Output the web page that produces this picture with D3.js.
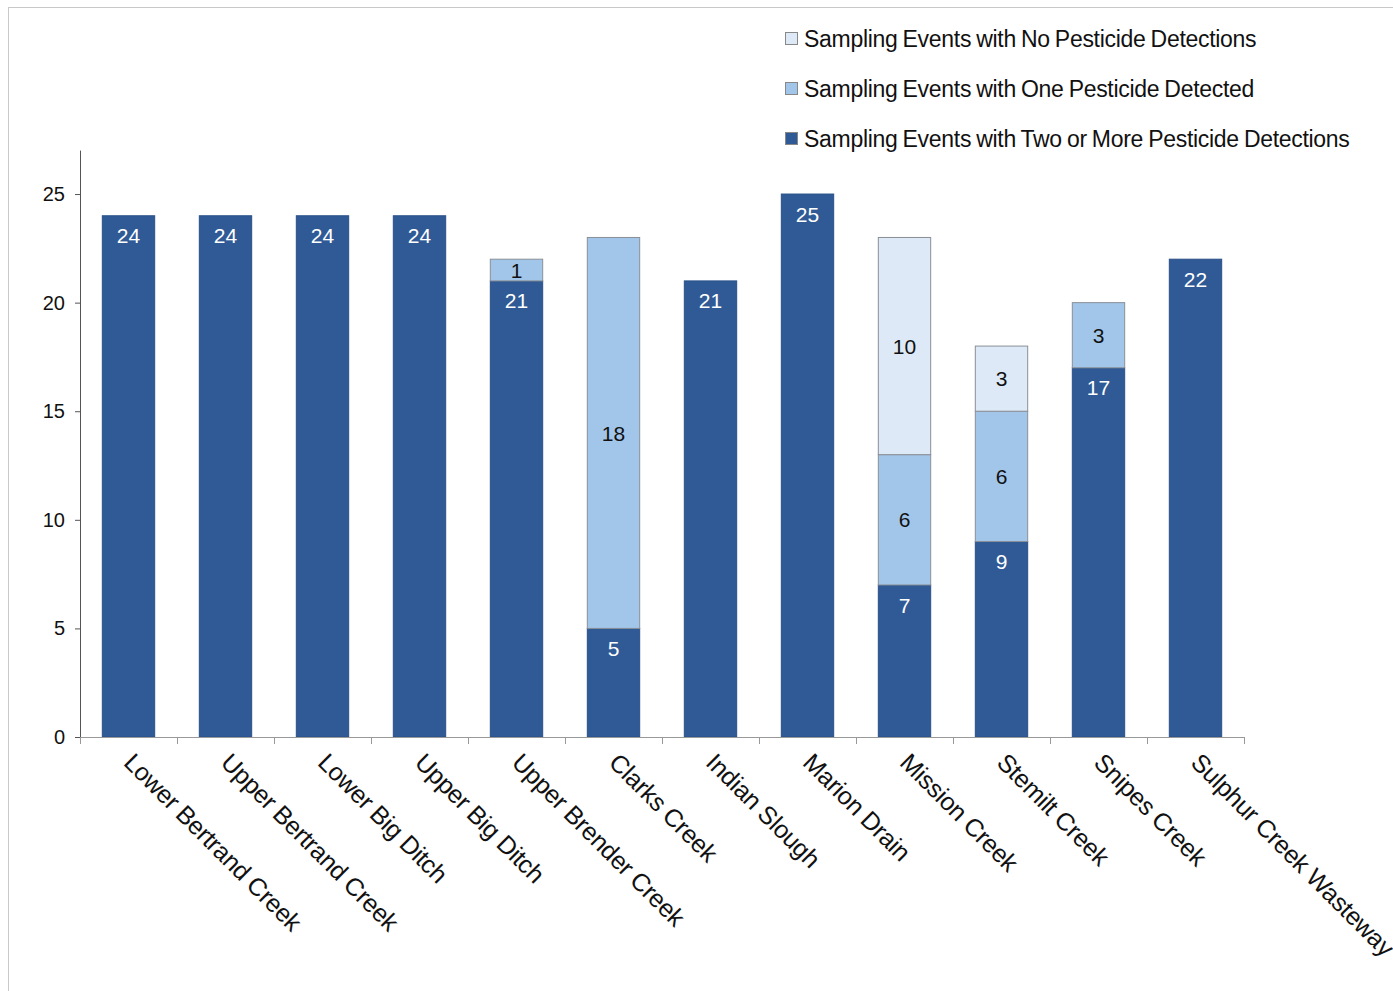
<!DOCTYPE html>
<html><head><meta charset="utf-8">
<script src="https://cdn.jsdelivr.net/npm/d3@7"></script>
<style>
body{margin:0;background:#fff;}
text{font-family:"Liberation Sans",Arial,sans-serif;}
</style></head>
<body><svg id="c" width="1393" height="991"></svg>
<script>
const categories = ["Lower Bertrand Creek","Upper Bertrand Creek","Lower Big Ditch","Upper Big Ditch","Upper Brender Creek","Clarks Creek","Indian Slough","Marion Drain","Mission Creek","Stemilt Creek","Snipes Creek","Sulphur Creek Wasteway"];
const twoOrMore = [24,24,24,24,21,5,21,25,7,9,17,22];
const one =       [0,0,0,0,1,18,0,0,6,6,3,0];
const none =      [0,0,0,0,0,0,0,0,10,3,0,0];
const seriesNames = ["Sampling Events with No Pesticide Detections","Sampling Events with One Pesticide Detected","Sampling Events with Two or More Pesticide Detections"];
const yTicks = [0,5,10,15,20,25];

const colors = {two:"#2f5a96", one:"#a2c6ea", none:"#dde9f6"};
const svg = d3.select("#c");

// frame
svg.append("rect").attr("x",8.5).attr("y",7.5).attr("width",1400).attr("height",1000)
  .attr("fill","none").attr("stroke","#c8c8c8");

const x = d3.scaleBand().domain(categories).range([80,1244]).paddingInner(0.46).paddingOuter(0.23);
const y = d3.scaleLinear().domain([0,27]).range([737,150.6]);

const rows = categories.map((c,i)=>({c, two:twoOrMore[i], one:one[i], none:none[i]}));
const stack = d3.stack().keys(["two","one","none"])(rows);

const g = svg.append("g");
stack.forEach(layer=>{
  const key = layer.key;
  layer.forEach((d,i)=>{
    const v = d[1]-d[0];
    if(v<=0) return;
    g.append("rect").attr("x",x(categories[i])).attr("width",x.bandwidth())
      .attr("y",y(d[1])).attr("height",y(d[0])-y(d[1]))
      .attr("fill",colors[key])
      .attr("stroke", key==="two" ? "#2a5088" : "#8a8f96").attr("stroke-width",1);
    const cx = x(categories[i])+x.bandwidth()/2;
    const ty = key==="two" ? y(d[1])+20 : (y(d[0])+y(d[1]))/2;
    g.append("text").attr("x",cx).attr("y",ty).attr("dy","0.36em")
      .attr("text-anchor","middle").attr("font-size",21)
      .attr("fill", key==="two" ? "#fff" : "#111").text(v);
  });
});

// y axis
const ya = svg.append("g").attr("transform","translate(80,0)")
  .call(d3.axisLeft(y).tickValues(yTicks).tickSize(5).tickPadding(10));
ya.select(".domain").attr("stroke","#555").attr("d","M0.5,150.6V737.5");
ya.selectAll(".tick line").attr("stroke","#555");
ya.selectAll(".tick text").attr("font-size",20).attr("fill","#111").attr("font-family","Liberation Sans,Arial,sans-serif");

// x axis
const xa = svg.append("g").attr("transform","translate(0,737)");
xa.append("line").attr("x1",80).attr("x2",1244).attr("y1",0.5).attr("y2",0.5).attr("stroke","#999");
const bounds = categories.map(c=>x(c)-x.step()*x.paddingInner()/2).concat([1244]);
bounds.forEach(b=>xa.append("line").attr("x1",Math.round(b)+0.5).attr("x2",Math.round(b)+0.5).attr("y1",0).attr("y2",7).attr("stroke","#999"));
categories.forEach(c=>{
  const cx = x(c)+x.bandwidth()/2;
  xa.append("text").attr("transform",`translate(${cx-6},${27}) rotate(45)`)
    .attr("font-size",25).attr("fill","#111").attr("letter-spacing","-0.3px").text(c);
});

// legend
const lg = svg.append("g");
const legColors = [colors.none, colors.one, colors.two];
seriesNames.forEach((n,i)=>{
  const yy = 39 + i*50;
  lg.append("rect").attr("x",785.5).attr("y",yy-6.5).attr("width",12).attr("height",12)
    .attr("fill",legColors[i]).attr("stroke","#888");
  lg.append("text").attr("x",804).attr("y",yy).attr("dy","0.36em").attr("font-size",23)
    .attr("letter-spacing","-0.3px").attr("word-spacing","-1px").attr("fill","#111").text(n);
});
</script></body></html>
